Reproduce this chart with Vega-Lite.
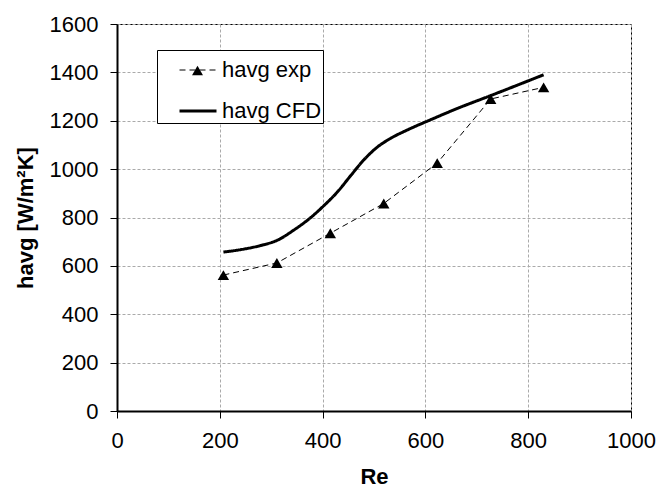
{
  "$schema": "https://vega.github.io/schema/vega-lite/v6.json",
  "width": 514,
  "height": 387,
  "autosize": {"type": "none"},
  "padding": {"left": 117, "top": 24, "right": 28, "bottom": 76},
  "background": "white",
  "config": {
    "font": "Liberation Sans",
    "view": {"stroke": "black", "strokeWidth": 1},
    "axis": {
      "labelFontSize": 22,
      "labelColor": "black",
      "titleFontSize": 22,
      "titleFontWeight": "bold",
      "titleColor": "black",
      "domainColor": "black",
      "domainWidth": 2,
      "tickColor": "black",
      "tickSize": 7,
      "tickWidth": 1,
      "gridColor": "#aaaaaa",
      "gridDash": [3, 2],
      "gridWidth": 1,
      "labelFlush": false,
      "format": "d"
    }
  },
  "data": {
    "values": [
      {"Re": 207, "h": 562, "series": "havg exp"},
      {"Re": 311, "h": 612, "series": "havg exp"},
      {"Re": 415, "h": 735, "series": "havg exp"},
      {"Re": 519, "h": 858, "series": "havg exp"},
      {"Re": 623, "h": 1025, "series": "havg exp"},
      {"Re": 727, "h": 1290, "series": "havg exp"},
      {"Re": 830, "h": 1338, "series": "havg exp"},
      {"Re": 207, "h": 657, "series": "havg CFD"},
      {"Re": 240, "h": 667, "series": "havg CFD"},
      {"Re": 279, "h": 684, "series": "havg CFD"},
      {"Re": 312, "h": 706, "series": "havg CFD"},
      {"Re": 344, "h": 748, "series": "havg CFD"},
      {"Re": 377, "h": 800, "series": "havg CFD"},
      {"Re": 403, "h": 850, "series": "havg CFD"},
      {"Re": 429, "h": 906, "series": "havg CFD"},
      {"Re": 455, "h": 974, "series": "havg CFD"},
      {"Re": 481, "h": 1040, "series": "havg CFD"},
      {"Re": 507, "h": 1092, "series": "havg CFD"},
      {"Re": 533, "h": 1128, "series": "havg CFD"},
      {"Re": 565, "h": 1162, "series": "havg CFD"},
      {"Re": 610, "h": 1204, "series": "havg CFD"},
      {"Re": 660, "h": 1249, "series": "havg CFD"},
      {"Re": 727, "h": 1304, "series": "havg CFD"},
      {"Re": 830, "h": 1390, "series": "havg CFD"}
    ]
  },
  "encoding": {
    "x": {
      "field": "Re",
      "type": "quantitative",
      "scale": {"domain": [0, 1000], "nice": false},
      "axis": {"values": [0, 200, 400, 600, 800, 1000], "title": "Re", "labelPadding": 12, "titlePadding": 15}
    },
    "y": {
      "field": "h",
      "type": "quantitative",
      "scale": {"domain": [0, 1600], "nice": false},
      "axis": {"values": [0, 200, 400, 600, 800, 1000, 1200, 1400, 1600], "title": "havg [W/m²K]", "labelPadding": 12, "titlePadding": 12}
    }
  },
  "layer": [
    {
      "transform": [{"filter": "datum.series === 'havg exp'"}],
      "mark": {"type": "line", "color": "black"},
      "encoding": {
        "strokeDash": {
          "field": "series", "type": "nominal",
          "scale": {"domain": ["havg exp", "havg CFD"], "range": [[6, 4], [1, 0]]},
          "legend": {"orient": "none", "legendX": 40, "legendY": 26, "title": null, "padding": 1, "symbolOffset": 20, "symbolType": "stroke", "symbolSize": 1369, "symbolStrokeColor": "black", "labelFontSize": 22, "labelColor": "black", "labelOffset": 4, "labelExpr": "datum.label + ' '", "rowPadding": 10, "strokeColor": "black", "fillColor": "white"}
        },
        "strokeWidth": {
          "field": "series", "type": "nominal",
          "scale": {"domain": ["havg exp", "havg CFD"], "range": [1, 3]},
          "legend": {"orient": "none", "legendX": 40, "legendY": 26, "title": null, "padding": 1, "symbolOffset": 20, "symbolType": "stroke", "symbolSize": 1369, "symbolStrokeColor": "black", "labelFontSize": 22, "labelColor": "black", "labelOffset": 4, "labelExpr": "datum.label + ' '", "rowPadding": 10, "strokeColor": "black", "fillColor": "white"}
        }
      }
    },
    {
      "transform": [{"filter": "datum.series === 'havg CFD'"}],
      "mark": {"type": "line", "color": "black", "interpolate": "monotone"},
      "encoding": {
        "strokeDash": {"field": "series", "type": "nominal"},
        "strokeWidth": {"field": "series", "type": "nominal"}
      }
    },
    {
      "transform": [{"filter": "datum.series === 'havg exp'"}],
      "mark": {"type": "point", "filled": true, "color": "black", "opacity": 1, "size": 130},
      "encoding": {
        "shape": {
          "field": "series", "type": "nominal",
          "scale": {"domain": ["havg exp"], "range": ["triangle-up"]},
          "legend": {"orient": "none", "legendX": 74, "legendY": 40, "title": null, "padding": 0, "labelExpr": "''", "labelFontSize": 1, "labelOffset": 0, "symbolSize": 120, "symbolFillColor": "black", "symbolStrokeColor": "black", "symbolOpacity": 1, "zindex": 2}
        }
      }
    }
  ]
}
